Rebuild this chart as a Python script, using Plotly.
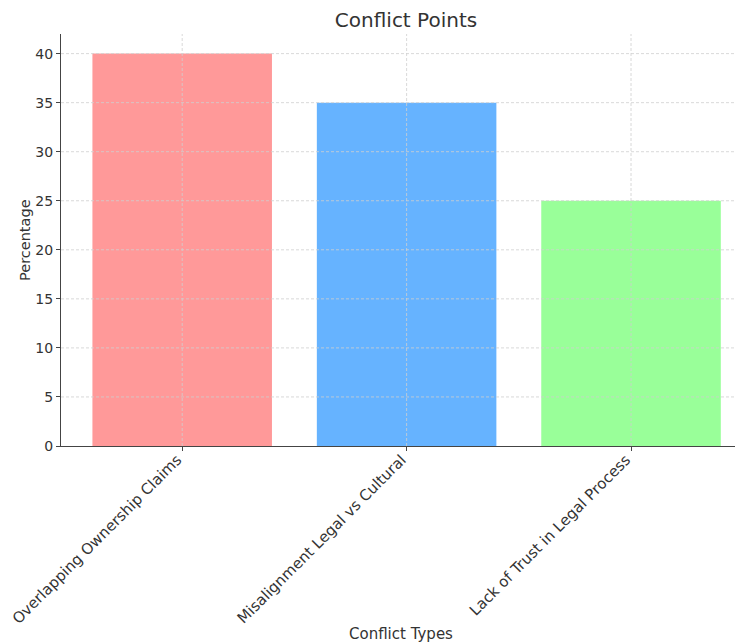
import plotly.graph_objects as go

categories = ["Overlapping Ownership Claims", "Misalignment Legal vs Cultural", "Lack of Trust in Legal Process"]
values = [40, 35, 25]
colors = ["#ff9999", "#66b3ff", "#99ff99"]
y_ticks = [0, 5, 10, 15, 20, 25, 30, 35, 40]

font = "DejaVu Sans"
txt = "#333333"
grid = "#cfcfcf"
xpos = list(range(len(categories)))

fig = go.Figure(go.Bar(x=xpos, y=values, marker_color=colors, marker_line_width=0, width=0.8))

shapes = []
for t in y_ticks[1:]:
    shapes.append(dict(type="line", xref="x domain", yref="y", x0=0, x1=1, y0=t, y1=t,
                       line=dict(color=grid, width=0.8, dash="3px,2px"), layer="above"))
for xv in xpos:
    shapes.append(dict(type="line", xref="x", yref="y domain", x0=xv, x1=xv, y0=0, y1=1,
                       line=dict(color=grid, width=0.8, dash="3px,2px"), layer="above"))

# page has an 8px body margin, so the figure is sized/offset to compensate
W, H = 735, 636
L, R, T, B = 53, 2, 26, 198
fig.update_layout(
    width=W, height=H,
    margin=dict(l=L, r=R, t=T, b=B, autoexpand=False),
    plot_bgcolor="white", paper_bgcolor="white",
    font=dict(family=font, color=txt, size=14),
    title=dict(text="Conflict Points", x=398 / W, xanchor="center", xref="container",
               y=1 - 12 / H, yanchor="middle", font=dict(size=20, family=font, color=txt)),
    showlegend=False,
    shapes=shapes,
    annotations=[
        dict(text="Conflict Types", xref="paper", yref="paper", x=0.5, y=0, xanchor="center",
             yanchor="middle", yshift=-188, showarrow=False, font=dict(size=15, family=font, color=txt)),
        dict(text="Percentage", xref="paper", yref="paper", x=0, y=0.5, xanchor="center",
             yanchor="middle", xshift=-36, textangle=-90, showarrow=False,
             font=dict(size=14.5, family=font, color=txt)),
    ],
)
fig.update_xaxes(
    range=[-0.54, 2.49], tickmode="array", tickvals=xpos, ticktext=categories,
    tickangle=-45, showline=True, linecolor="#444444", linewidth=1.3, ticks="outside", ticklen=4,
    tickcolor="#444444", showgrid=False, automargin=False,
    ticklabelstandoff=-6, ticklabelshift=-5,
    tickfont=dict(size=15, family=font, color=txt), zeroline=False,
)
fig.update_yaxes(
    range=[0, 42], tickvals=y_ticks, showline=True, linecolor="#444444", linewidth=1.3, ticks="outside",
    ticklen=4, tickcolor="#444444", showgrid=False, automargin=False,
    tickfont=dict(size=14, family=font, color=txt), zeroline=False,
)
fig.write_html("out.html")
